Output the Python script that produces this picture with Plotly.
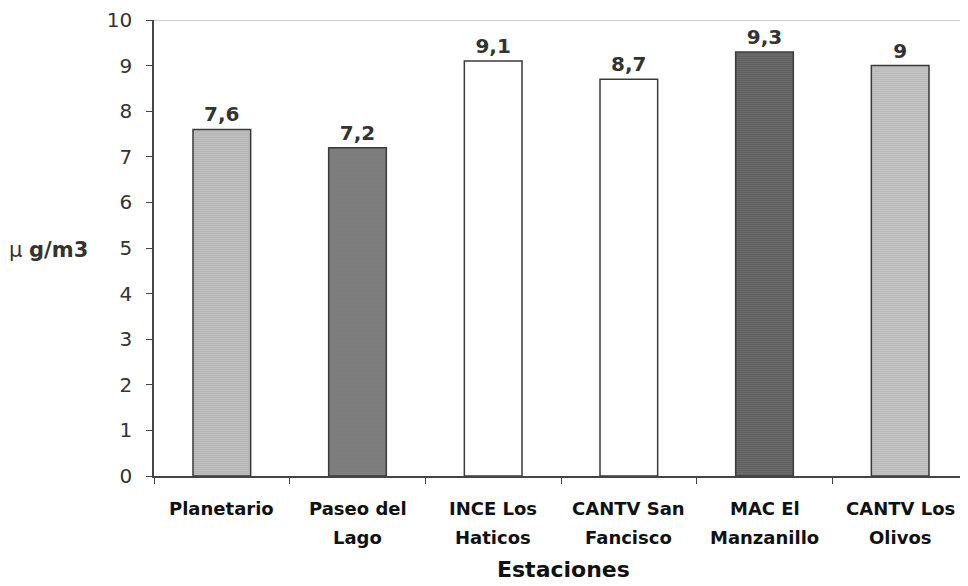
import plotly.graph_objects as go

categories = ["Planetario", "Paseo del Lago", "INCE Los Haticos", "CANTV San Fancisco",
              "MAC El Manzanillo", "CANTV Los Olivos"]
label_line1 = ["Planetario", "Paseo del", "INCE Los", "CANTV San", "MAC El", "CANTV Los"]
label_line2 = ["", "Lago", "Haticos", "Fancisco", "Manzanillo", "Olivos"]
values = [7.6, 7.2, 9.1, 8.7, 9.3, 9.0]
value_labels = ["7,6", "7,2", "9,1", "8,7", "9,3", "9"]
y_ticks = list(range(0, 11))

bar_colors = ["#c9c9c9", "#858585", "#ffffff", "#ffffff", "#525252", "#cdcdcd"]
pattern_fg = ["#a6a6a6", "#666666", "#ffffff", "#ffffff", "#3c3c3c", "#a8a8a8"]
pattern_shapes = [".", ".", "", "", ".", "."]

FONT = "DejaVu Sans, sans-serif"

fig = go.Figure()
fig.add_trace(go.Bar(
    x=categories, y=values,
    text=value_labels, textposition="outside",
    textfont=dict(family=FONT, size=20, color="#333333"),
    texttemplate="<b>%{text}</b>",
    cliponaxis=False,
    width=0.425,
    marker=dict(color=bar_colors, line=dict(color="#3a3a3a", width=1.5),
                pattern=dict(shape=pattern_shapes, fgcolor=pattern_fg, size=2, solidity=0.3)),
))

annotations = [
    dict(text="μ <b>g/m3</b>", xref="paper", yref="paper", x=-0.181, y=0.496,
         xanchor="left", yanchor="middle", showarrow=False,
         font=dict(family=FONT, size=21, color="#333333")),
    dict(text="<b>Estaciones</b>", xref="paper", yref="paper", x=0.5025, y=-0.2368,
         xanchor="center", yanchor="bottom", showarrow=False,
         font=dict(family=FONT, size=22, color="#111111")),
]
for c, l1, l2 in zip(categories, label_line1, label_line2):
    annotations.append(dict(text="<b>" + l1 + "</b>", xref="x", yref="paper", x=c, y=-0.0702,
                            xanchor="center", yanchor="middle", showarrow=False,
                            font=dict(family=FONT, size=18, color="#111111")))
    if l2:
        annotations.append(dict(text="<b>" + l2 + "</b>", xref="x", yref="paper", x=c, y=-0.1338,
                                xanchor="center", yanchor="middle", showarrow=False,
                                font=dict(family=FONT, size=18, color="#111111")))

fig.update_layout(
    width=960, height=578,
    margin=dict(l=146, r=0, t=12, b=110, autoexpand=False),
    paper_bgcolor="white", plot_bgcolor="white",
    showlegend=False,
    font=dict(family=FONT, color="#222222"),
    xaxis=dict(
        showline=True, linecolor="#444444", linewidth=1.5,
        ticks="outside", ticklen=6, tickcolor="#444444", tickson="boundaries",
        showticklabels=False,
        range=[-0.5, 5.5], fixedrange=True,
    ),
    yaxis=dict(
        range=[0, 10], tickvals=y_ticks,
        showline=True, linecolor="#444444", linewidth=1.5,
        ticks="outside", ticklen=6, tickcolor="#444444",
        ticklabelstandoff=10,
        tickfont=dict(family=FONT, size=20, color="#333333"),
        showgrid=False, zeroline=False,
    ),
    shapes=[dict(type="line", xref="paper", yref="y", x0=0, x1=1, y0=10, y1=10,
                 line=dict(color="#9a9a9a", width=1))],
    annotations=annotations,
)

fig.write_html("out.html")
